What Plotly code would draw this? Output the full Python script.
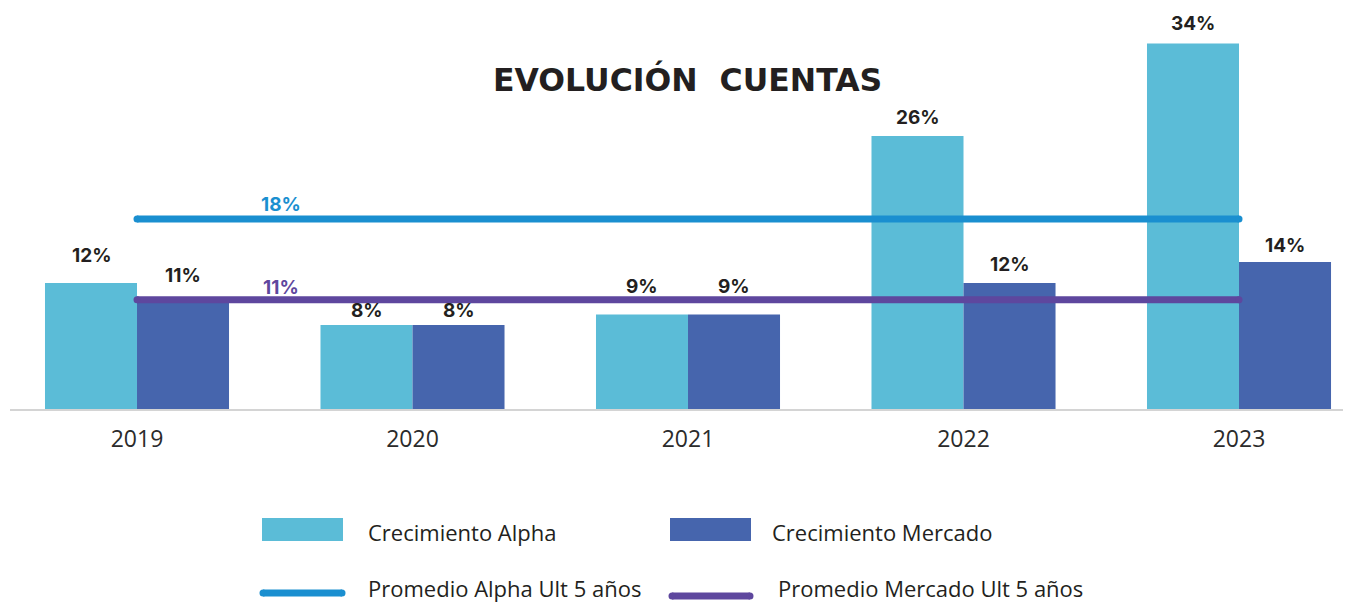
import plotly.graph_objects as go

# ---- data ----
years = ["2019", "2020", "2021", "2022", "2023"]
alpha_growth = [12.0, 8.0, 9.0, 26.0, 34.8]
mercado_growth = [10.6, 8.0, 9.0, 12.0, 14.0]
alpha_labels = ["12%", "8%", "9%", "26%", "34%"]
mercado_labels = ["11%", "8%", "9%", "12%", "14%"]
avg_alpha = 18.1
avg_mercado = 10.4
avg_alpha_label = "18%"
avg_mercado_label = "11%"
series_names = ["Crecimiento Alpha", "Crecimiento Mercado",
                "Promedio Alpha Ult 5 años", "Promedio Mercado Ult 5 años"]
title_text = "EVOLUCIÓN\u00a0 CUENTAS"

# ---- style ----
alpha_label_dy = [28, 15, 28, 19, 20]
mercado_label_dy = [22, 15, 28, 19, 17]
C_ALPHA = "#5BBCD7"
C_MERC = "#4665AD"
C_AVG_A = "#1A8FD0"
C_AVG_M = "#5E479E"
TXT = "#231F20"
OFF = 8                      # page body margin
W = 1351 - OFF
H = 604 - OFF
ML, MR, MT, MB = 10 - OFF, 0, 20 - OFF, H - (409 - OFF)
BW = 0.334

x_idx = list(range(len(years)))
fig = go.Figure()

fig.add_trace(go.Bar(x=x_idx, y=alpha_growth, width=BW, offset=-BW,
                     marker=dict(color=C_ALPHA, line=dict(width=0)),
                     name=series_names[0], showlegend=False, hoverinfo="skip"))
fig.add_trace(go.Bar(x=x_idx, y=mercado_growth, width=BW, offset=0,
                     marker=dict(color=C_MERC, line=dict(width=0)),
                     name=series_names[1], showlegend=False, hoverinfo="skip"))

for val, col, nm in [(avg_alpha, C_AVG_A, series_names[2]),
                     (avg_mercado, C_AVG_M, series_names[3])]:
    fig.add_trace(go.Scatter(x=[x_idx[0], x_idx[-1]], y=[val, val],
                             mode="lines+markers",
                             line=dict(color=col, width=7),
                             marker=dict(color=col, size=7, line=dict(width=0)),
                             name=nm, showlegend=False, hoverinfo="skip"))

annotations = []
lab_font = dict(family="Inter", size=19, color=TXT, weight=700)
for i in x_idx:
    annotations.append(dict(x=i - BW / 2, y=alpha_growth[i], text=alpha_labels[i],
                            xref="x", yref="y", showarrow=False, yanchor="middle",
                            yshift=alpha_label_dy[i], font=lab_font))
    annotations.append(dict(x=i + BW / 2, y=mercado_growth[i], text=mercado_labels[i],
                            xref="x", yref="y", showarrow=False, yanchor="middle",
                            yshift=mercado_label_dy[i], font=lab_font))

annotations.append(dict(x=0.523, y=avg_alpha, text=avg_alpha_label, xref="x", yref="y",
                        showarrow=False, yanchor="middle", yshift=14,
                        font=dict(family="Inter", size=19, color=C_AVG_A, weight=700)))
annotations.append(dict(x=0.523, y=avg_mercado, text=avg_mercado_label, xref="x", yref="y",
                        showarrow=False, yanchor="middle", yshift=12,
                        font=dict(family="Inter", size=19, color=C_AVG_M, weight=700)))

pw = W - ML - MR
ph = H - MT - MB


def px(xp):
    return (xp - OFF - ML) / pw


def py(yp):
    return (H - MB - (yp - OFF)) / ph


# title
annotations.append(dict(x=px(687), y=py(78.5), xref="paper", yref="paper",
                        text="<b>" + title_text + "</b>", showarrow=False,
                        xanchor="center", yanchor="middle",
                        font=dict(family="DejaVu Sans", size=31.5, color=TXT)))

shapes = []
# legend swatches
shapes.append(dict(type="rect", xref="paper", yref="paper",
                   x0=px(262), x1=px(343), y0=py(541), y1=py(518),
                   fillcolor=C_ALPHA, line=dict(width=0)))
shapes.append(dict(type="rect", xref="paper", yref="paper",
                   x0=px(670), x1=px(751), y0=py(541), y1=py(518),
                   fillcolor=C_MERC, line=dict(width=0)))
for (x0, x1, yy, col) in [(263, 342, 593, C_AVG_A), (672, 750, 596, C_AVG_M)]:
    shapes.append(dict(type="line", xref="paper", yref="paper",
                       x0=px(x0), x1=px(x1), y0=py(yy), y1=py(yy),
                       line=dict(color=col, width=7)))
    for xc in (x0, x1):
        shapes.append(dict(type="circle", xref="paper", yref="paper",
                           x0=px(xc - 3.5), x1=px(xc + 3.5),
                           y0=py(yy + 3.5), y1=py(yy - 3.5),
                           fillcolor=col, line=dict(width=0)))

leg_font = dict(family="Open Sans", size=22, color=TXT)
for (xx, yy, t) in [(366, 532, series_names[0]), (770, 532, series_names[1]),
                    (366, 588, series_names[2]), (776, 588, series_names[3])]:
    annotations.append(dict(x=px(xx), y=py(yy), xref="paper", yref="paper", text=t,
                            showarrow=False, xanchor="left", yanchor="middle",
                            font=leg_font))

fig.update_layout(
    width=W, height=H,
    margin=dict(l=ML, r=MR, t=MT, b=MB, pad=0),
    paper_bgcolor="white", plot_bgcolor="white",
    showlegend=False,
    annotations=annotations,
    shapes=shapes,
    xaxis=dict(range=[-0.461, 4.4065], tickvals=x_idx, ticktext=years,
               showgrid=False, zeroline=False, showline=True,
               linecolor="#D4D4D4", linewidth=2, ticks="",
               ticklabelstandoff=8,
               tickfont=dict(family="Open Sans", size=23, color="#2B2B2B")),
    yaxis=dict(range=[0, 37.05], visible=False, showgrid=False, zeroline=False),
)

fig.write_html("out.html")
